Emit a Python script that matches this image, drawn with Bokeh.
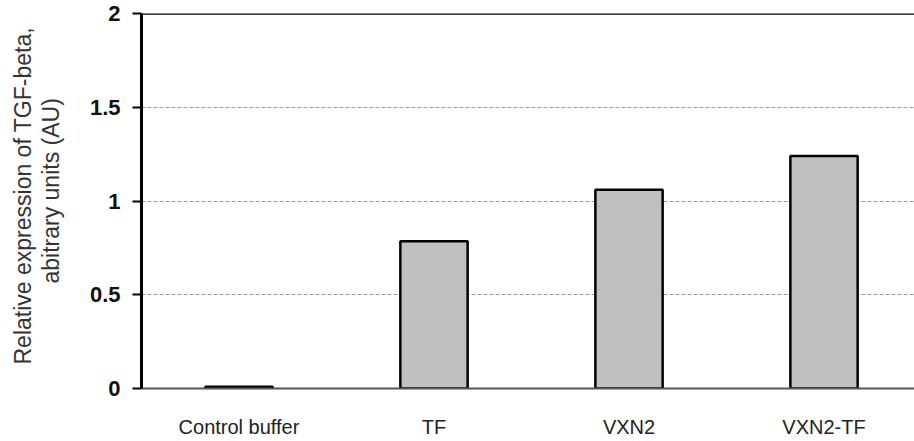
from bokeh.plotting import figure
from bokeh.models import FixedTicker, Span, ColumnDataSource, Title
from bokeh.embed import file_html
from bokeh.resources import INLINE

categories = ["Control buffer", "TF", "VXN2", "VXN2-TF"]
values = [0.01, 0.785, 1.06, 1.24]
y_ticks = [0, 0.5, 1, 1.5, 2]
y_tick_labels = ["0", "0.5", "1", "1.5", "2"]
y_title_lines = ["Relative expression of TGF-beta,", "abitrary units (AU)"]

xs = [i + 0.5 for i in range(len(categories))]
src = ColumnDataSource(dict(x=xs, top=values, name=categories))

p = figure(width=914, height=441, output_backend="svg", toolbar_location=None,
           x_range=(0, 3.964), y_range=(0, 2),
           min_border_left=141, min_border_right=0, min_border_top=13, min_border_bottom=53)
p.outline_line_color = None
p.background_fill_color = "white"

p.xgrid.grid_line_color = None
p.ygrid.ticker = FixedTicker(ticks=[0.5, 1, 1.5])
p.ygrid.grid_line_color = "#9a9a9a"
p.ygrid.grid_line_dash = "4 2"
p.ygrid.grid_line_width = 1

p.vbar(x="x", top="top", width=0.345, bottom=0, source=src,
       fill_color="#c0c0c0", line_color="black", line_width=2.5)

top_line = Span(location=2, dimension="width", line_color="black", line_width=2.5)
p.add_layout(top_line)

# y axis
ya = p.yaxis[0]
ya.ticker = FixedTicker(ticks=y_ticks)
ya.major_label_overrides = {t: l for t, l in zip(y_ticks, y_tick_labels)}
ya.major_label_text_font = "Liberation Sans"
ya.major_label_text_font_style = "bold"
ya.major_label_text_font_size = "22px"
ya.major_label_text_color = "#111111"
ya.major_label_standoff = 12
ya.major_tick_out = 9
ya.major_tick_in = 0
ya.major_tick_line_width = 2
ya.major_tick_line_color = "black"
ya.minor_tick_line_color = None
ya.axis_line_color = "black"
ya.axis_line_width = 3

# y-axis title: two vertical titles in the left panel (second line nearest the axis)
title_specs = [(y_title_lines[1], 46, 105), (y_title_lines[0], -46, 24)]
for line, sd, off in title_specs:
    t = Title(text=line, align="left", offset=off, standoff=sd,
              text_font="Liberation Sans", text_font_size="23px",
              text_font_style="normal", text_color="#333333")
    p.add_layout(t, "left")

# x axis
xa = p.xaxis[0]
xa.ticker = FixedTicker(ticks=xs)
xa.major_label_overrides = {x: c for x, c in zip(xs, categories)}
xa.major_label_text_font = "Liberation Sans"
xa.major_label_text_font_size = "20px"
xa.major_label_text_color = "#222222"
xa.major_label_standoff = 27
xa.major_tick_out = 0
xa.major_tick_in = 0
xa.minor_tick_line_color = None
xa.axis_line_color = "#555555"
xa.axis_line_width = 2

open("out.html", "w").write(file_html(p, INLINE))
